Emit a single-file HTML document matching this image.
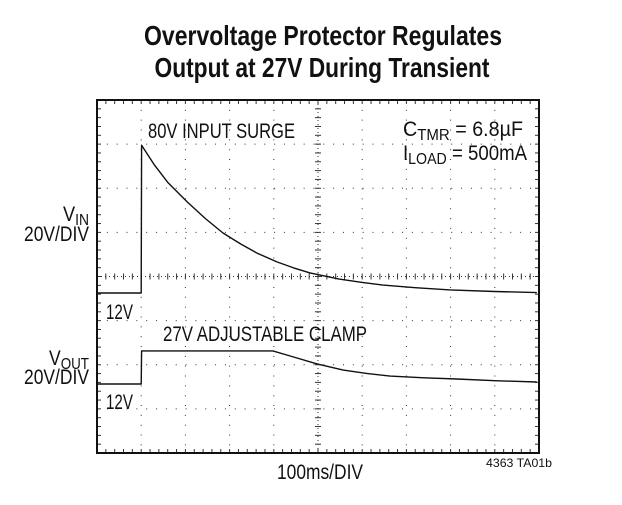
<!DOCTYPE html>
<html><head><meta charset="utf-8"><style>
html,body{margin:0;padding:0;background:#fff;}
body{width:622px;height:500px;overflow:hidden;}
svg text{font-family:"Liberation Sans Narrow","Liberation Sans",sans-serif;fill:#111;}
</style></head><body>
<svg id="chart" width="622" height="500" xmlns="http://www.w3.org/2000/svg">
<text x="323" y="45" font-size="28" font-weight="bold" text-anchor="middle" textLength="358" lengthAdjust="spacingAndGlyphs">Overvoltage Protector Regulates</text>
<text x="322" y="77" font-size="28" font-weight="bold" text-anchor="middle" textLength="335" lengthAdjust="spacingAndGlyphs">Output at 27V During Transient</text>
<g id="grid"></g>
<g id="traces"></g>
<rect x="97" y="100" width="442" height="353" fill="none" stroke="#111" stroke-width="2"/>
<text x="148" y="138" font-size="21" textLength="147" lengthAdjust="spacingAndGlyphs">80V INPUT SURGE</text>
<text x="163" y="341" font-size="21" textLength="204" lengthAdjust="spacingAndGlyphs">27V ADJUSTABLE CLAMP</text>
<text x="403" y="136" font-size="21" textLength="120" lengthAdjust="spacingAndGlyphs">C<tspan font-size="16" dy="4">TMR</tspan><tspan dy="-4"> = 6.8µF</tspan></text>
<text x="403" y="160" font-size="21" textLength="124" lengthAdjust="spacingAndGlyphs">I<tspan font-size="16" dy="4">LOAD</tspan><tspan dy="-4"> = 500mA</tspan></text>
<text x="63" y="221" font-size="21" textLength="26" lengthAdjust="spacingAndGlyphs">V<tspan font-size="16" dy="4">IN</tspan></text>
<text x="24" y="241" font-size="21" textLength="65" lengthAdjust="spacingAndGlyphs">20V/DIV</text>
<text x="49" y="365" font-size="21" textLength="40" lengthAdjust="spacingAndGlyphs">V<tspan font-size="16" dy="4">OUT</tspan></text>
<text x="24" y="384" font-size="21" textLength="65" lengthAdjust="spacingAndGlyphs">20V/DIV</text>
<text x="106" y="319" font-size="21" textLength="27" lengthAdjust="spacingAndGlyphs">12V</text>
<text x="106" y="409" font-size="21" textLength="27" lengthAdjust="spacingAndGlyphs">12V</text>
<text x="320" y="479" font-size="21" text-anchor="middle" textLength="86" lengthAdjust="spacingAndGlyphs">100ms/DIV</text>
<text x="486" y="467" font-size="12" textLength="66" lengthAdjust="spacingAndGlyphs">4363 TA01b</text>
</svg>
<script>
const vinTimes = [0, 100, 101, 130, 161, 204, 245, 285, 325, 362, 407, 445, 482, 548, 600, 647, 720, 799, 900, 995];
const vinValues = [12, 12, 79, 70, 61.9, 53.3, 45.8, 39.2, 34.2, 30.1, 26.1, 23.4, 21.1, 18.3, 16.8, 15.6, 14.4, 13.4, 12.7, 12.2];
const voutTimes = [0, 100, 101, 398, 437, 498, 557, 610, 663, 740, 814, 900, 995];
const voutValues = [12, 12, 27, 27, 24.7, 21.1, 18.3, 16.8, 15.6, 14.8, 14.3, 13.5, 12.9];
const X0=97, W=442, Y0=100, H=353;
const pxPerMs = W/1000, pxPerV = (H/8)/20;
const x = t => X0 + t*pxPerMs;
const yIn = v => 319.5 - v*pxPerV;
const yOut = v => 410.5 - v*pxPerV;
const NS='http://www.w3.org/2000/svg';
const grid=document.getElementById('grid');
function ln(x1,y1,x2,y2,dash,w){const l=document.createElementNS(NS,'line');l.setAttribute('x1',x1);l.setAttribute('y1',y1);l.setAttribute('x2',x2);l.setAttribute('y2',y2);l.setAttribute('stroke','#333');l.setAttribute('stroke-width',w||1);if(dash)l.setAttribute('stroke-dasharray',dash);return l;}
for(let i=1;i<10;i++){const gx=X0+i*W/10;const l=ln(gx,Y0,gx,Y0+H,i==5?'1 3':'1 8.84',1);


grid.appendChild(l);}
for(let j=1;j<8;j++){const gy=Y0+j*H/8;const l=ln(X0,gy,X0+W,gy,j==4?'1 3':'1 8.84',1);


grid.appendChild(l);}
for(let i=0;i<=50;i++){const tx=X0+i*W/50;
[[Y0,Y0+4],[Y0+H-4,Y0+H],[Y0+H/2-3,Y0+H/2+3]].forEach(p=>{const l=ln(tx,p[0],tx,p[1]);


grid.appendChild(l);});}
for(let j=0;j<=40;j++){const ty=Y0+j*H/40;
[[X0,X0+4],[X0+W-4,X0+W],[X0+W/2-3,X0+W/2+3]].forEach(p=>{const l=ln(p[0],ty,p[1],ty);


grid.appendChild(l);});}
const tr=document.getElementById('traces');
function trace(ts,vs,yf,name){const p=document.createElementNS(NS,'polyline');
p.setAttribute('points',ts.map((t,i)=>x(t).toFixed(1)+','+yf(vs[i]).toFixed(1)).join(' '));
p.setAttribute('fill','none');p.setAttribute('stroke','#111');p.setAttribute('stroke-width','1.4');p.setAttribute('stroke-linejoin','round');


tr.appendChild(p);}
trace(vinTimes,vinValues,yIn,'vin-trace');
trace(voutTimes,voutValues,yOut,'vout-trace');
</script>
</body></html>
